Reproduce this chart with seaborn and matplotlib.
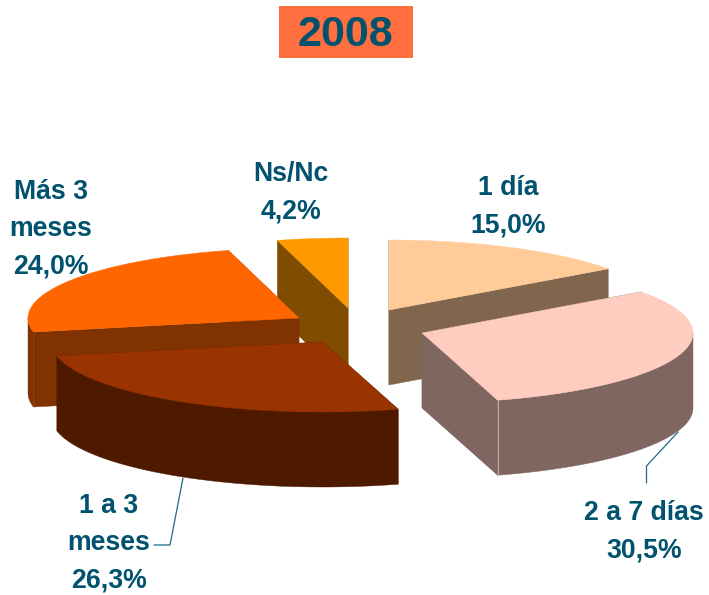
import numpy as np
import matplotlib
matplotlib.use("Agg")
import matplotlib.pyplot as plt
import seaborn as sns
from matplotlib.patches import Rectangle

sns.set_theme(style="white")
plt.rcParams['font.family'] = ['Liberation Sans', 'DejaVu Sans']

# data
title = "2008"
categories = ["1 día", "2 a 7 días", "1 a 3\nmeses", "Más 3\nmeses", "Ns/Nc"]
values = [15.0, 30.5, 26.3, 24.0, 4.2]
value_labels = ["15,0%", "30,5%", "26,3%", "24,0%", "4,2%"]

# styles and layout (pixel space of the figure)
top_colors = sns.color_palette(["#ffcc99", "#ffccc0", "#993300", "#ff6600", "#ff9900"])
text_color = "#00526e"
apex = [(389, 310), (422, 333), (322.5, 342), (299, 318), (348, 308)]
label_pos = [(508, 207), (644, 531.5), (109, 543.5), (51, 229), (291, 192.5)]
draw_order = [4, 0, 3, 2, 1]
RX, RY, DEPTH = 271, 70, 75

W, H = 709, 595
fig = plt.figure(figsize=(W / 100, H / 100), dpi=100)
ax = fig.add_axes([0, 0, 1, 1])
ax.set_xlim(0, W)
ax.set_ylim(H, 0)
ax.axis("off")

total = sum(values)
edges = np.concatenate([[0], np.cumsum(values)]) / total * 2 * np.pi


def ellipse(i, t):
    return apex[i][0] + RX * np.sin(t), apex[i][1] - RY * np.cos(t)


z = 2.0
for i in draw_order:
    top = np.array(top_colors[i])
    wall = tuple(top * 0.5)
    px, py = apex[i]
    t = np.linspace(edges[i], edges[i + 1], 160)
    x, y = ellipse(i, t)
    # cut faces
    for xe, ye in ((x[0], y[0]), (x[-1], y[-1])):
        ax.fill([px, xe, xe, px], [py, ye, ye + DEPTH, py + DEPTH],
                color=wall, lw=0.3, zorder=z)
    # outer rim: only the part of the arc facing the viewer
    lo, hi = max(edges[i], np.pi / 2), min(edges[i + 1], 3 * np.pi / 2)
    if lo < hi:
        xr, yr = ellipse(i, np.linspace(lo, hi, 160))
        ax.fill(np.r_[xr, xr[::-1]], np.r_[yr, yr[::-1] + DEPTH],
                color=wall, lw=0.3, zorder=z)
    # seam between cut face and rim on the front slice
    if i == 1:
        ax.plot([x[-1], x[-1]], [y[-1], y[-1] + DEPTH], color="#b9aaa6", lw=0.8, zorder=z)
    # top surface
    ax.fill(np.r_[px, x], np.r_[py, y], color=tuple(top), lw=0.3, zorder=z + 0.1)
    z += 0.2

# leader lines
ax.plot([678, 646.5, 646.5], [432, 466, 483], color="#1f6a85", lw=0.9, zorder=4)
ax.plot([183, 170, 154], [478, 545, 545], color="#1f6a85", lw=0.9, zorder=4)

# title
ax.add_patch(Rectangle((279, 6), 134, 52, color="#ff6f3f", lw=0, zorder=4))
ax.text(345, 35, title, color=text_color, fontsize=31, fontweight="bold",
        ha="center", va="center", zorder=5)

# labels
clip = Rectangle((0, 0), 705, H, transform=ax.transData)
for c, v, (lx, ly) in zip(categories, value_labels, label_pos):
    t = ax.text(lx, ly, f"{c}\n{v}", color=text_color, fontsize=19.2, fontweight="bold",
                ha="center", va="center", multialignment="center", linespacing=1.56, zorder=5)
    t.set_clip_path(clip)
    t.set_clip_on(True)

fig.savefig("out.png", dpi=100, facecolor="white")
